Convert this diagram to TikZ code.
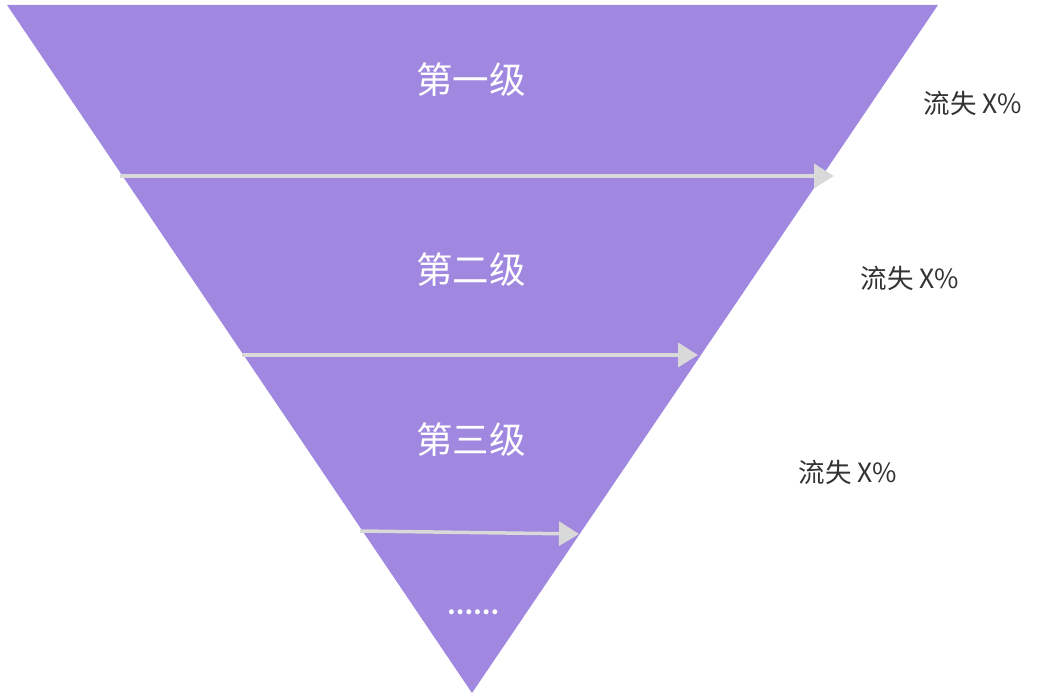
\documentclass[tikz,border=0pt]{standalone}
\usepackage{fontspec}
\setmainfont{Noto Sans CJK SC}
\usetikzlibrary{arrows.meta}
\definecolor{funnel}{RGB}{160,135,224}
\definecolor{arrowgray}{RGB}{217,217,217}
\definecolor{labelgray}{RGB}{51,51,51}
\tikzset{
  level/.style={text=white, font=\fontsize{36.5}{40}\selectfont, inner sep=0pt},
  loss/.style={text=labelgray, font=\fontsize{26.5}{30}\selectfont, inner sep=0pt},
  flow/.style={draw=arrowgray, line width=3.5pt, -{Triangle[length=20pt,width=24pt]}}
}
\begin{document}
\begin{tikzpicture}[x=1pt,y=-1pt]
\useasboundingbox (0,0) rectangle (1039,700);
\fill[funnel] (7,5) -- (938,5) -- (472,693) -- cycle;
\coordinate (a1s) at (120,176); \coordinate (a1e) at (834,176);
\coordinate (a2s) at (242,355); \coordinate (a2e) at (698,355);
\coordinate (a3s) at (360,531); \coordinate (a3e) at (579,534);
\draw[flow] (a1s) -- (a1e);
\draw[flow] (a2s) -- (a2e);
\draw[flow] (a3s) -- (a3e);
\node[level] (l1) at (471,80) {第一级};
\node[level] (l2) at (471,270) {第二级};
\node[level] (l3) at (471,440) {第三级};
\node[level, font=\fontsize{23}{26}\selectfont\bfseries] (l4) at (473,612) {……};
\node[loss] (p1) at (973,103) {流失 X\%};
\node[loss] (p2) at (910,278) {流失 X\%};
\node[loss] (p3) at (848,472) {流失 X\%};
\end{tikzpicture}
\end{document}
